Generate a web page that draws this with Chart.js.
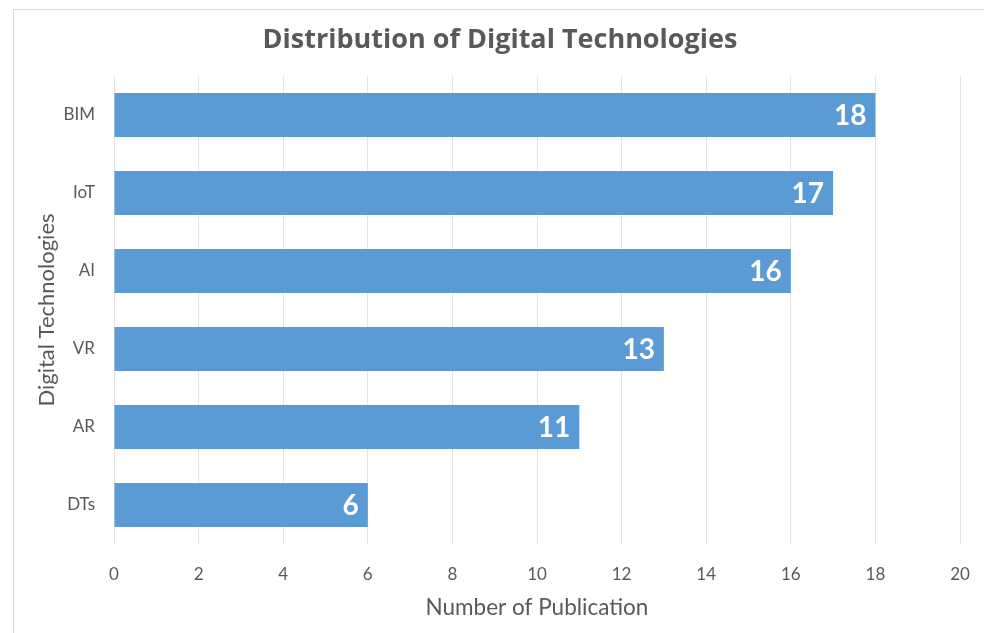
<!DOCTYPE html>
<html>
<head>
<meta charset="utf-8">
<script src="https://cdn.jsdelivr.net/npm/chart.js@4/dist/chart.umd.min.js"></script>
<style>
  html, body { margin: 0; padding: 0; background: #fff; }
  #wrap { width: 984px; height: 633px; position: relative; }
</style>
</head>
<body>
<div id="wrap"><canvas id="chart"></canvas></div>
<script>
const technologies = ["BIM", "IoT", "AI", "VR", "AR", "DTs"];
const publications = [18, 17, 16, 13, 11, 6];
const xTicks = [0, 2, 4, 6, 8, 10, 12, 14, 16, 18, 20];
const chartTitle = "Distribution of Digital Technologies";

const FONT = "Lato, 'Open Sans', sans-serif";
const TEXT = "#595959";

// thin frame around the chart, open to the right and bottom, plus the title
const framePlugin = {
  id: "frame",
  beforeDraw(chart) {
    const ctx = chart.ctx;
    ctx.save();
    ctx.strokeStyle = "#d9d9d9";
    ctx.lineWidth = 1;
    ctx.beginPath();
    ctx.moveTo(13.5, chart.height);
    ctx.lineTo(13.5, 9.5);
    ctx.lineTo(chart.width, 9.5);
    ctx.stroke();

    ctx.fillStyle = TEXT;
    ctx.font = "bold 27px 'Open Sans', sans-serif";
    ctx.textAlign = "center";
    ctx.textBaseline = "middle";
    ctx.fillText(chartTitle, 500, 40);
    ctx.restore();
  },
};

// white value labels at the inner end of each bar
const valueLabels = {
  id: "valueLabels",
  afterDatasetsDraw(chart) {
    const ctx = chart.ctx;
    const meta = chart.getDatasetMeta(0);
    ctx.save();
    ctx.fillStyle = "#ffffff";
    ctx.font = "bold 28px " + FONT;
    ctx.textAlign = "right";
    ctx.textBaseline = "middle";
    meta.data.forEach((bar, i) => {
      ctx.fillText(String(publications[i]), bar.x - 9, bar.y + 1);
    });
    ctx.restore();
  },
};

new Chart(document.getElementById("chart"), {
  type: "bar",
  data: {
    labels: technologies,
    datasets: [{
      data: publications,
      backgroundColor: "#5b9bd5",
      borderWidth: 0,
      categoryPercentage: 1,
      barPercentage: 0.565,
    }],
  },
  options: {
    indexAxis: "y",
    responsive: true,
    maintainAspectRatio: false,
    animation: false,
    layout: { padding: { left: 0, right: 24, top: 76, bottom: 0 } },
    plugins: {
      legend: { display: false },
      tooltip: { enabled: false },
      title: { display: false },
    },
    scales: {
      x: {
        min: 0,
        max: 20,
        afterBuildTicks(scale) {
          scale.ticks = xTicks.map((v) => ({ value: v }));
        },
        afterFit(scale) { scale.height = 633 - 544; },
        grid: {
          color: "#e3e3e3",
          drawTicks: true,
          tickLength: 17,
          tickColor: "rgba(0,0,0,0)",
        },
        border: { display: false },
        ticks: {
          color: TEXT,
          padding: 3,
          font: { family: FONT, size: 17 },
        },
        title: {
          display: true,
          text: "Number of Publication",
          color: TEXT,
          font: { family: FONT, size: 22.5 },
          padding: { top: 0, bottom: 12 },
        },
      },
      y: {
        afterFit(scale) { scale.width = 114; },
        grid: { display: false, drawTicks: false },
        border: { display: false },
        ticks: {
          color: TEXT,
          padding: 19,
          font: { family: FONT, size: 17 },
        },
        title: {
          display: true,
          text: "Digital Technologies",
          color: TEXT,
          font: { family: FONT, size: 22 },
          padding: { top: 34, bottom: 0 },
        },
      },
    },
  },
  plugins: [framePlugin, valueLabels],
});
</script>
</body>
</html>
